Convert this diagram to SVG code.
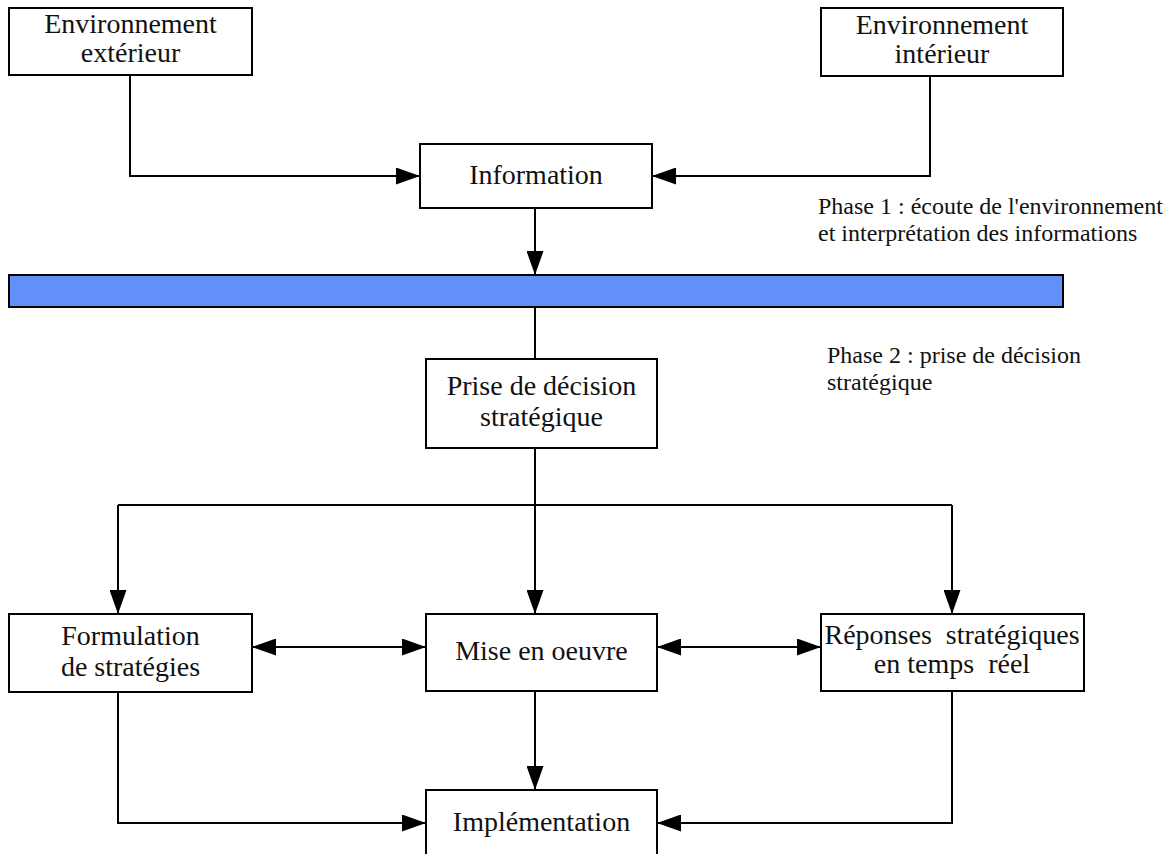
<svg xmlns="http://www.w3.org/2000/svg" width="1174" height="854" viewBox="0 0 1174 854">
  <defs>
    <style>
      .box { fill: #ffffff; stroke: #000000; stroke-width: 2; }
      .bar { fill: #6090f8; stroke: #000000; stroke-width: 2; }
      .lbl { font-family: "Liberation Serif", "Times New Roman", serif; font-size: 28px; fill: #111111; text-anchor: middle; white-space: pre; }
      .note { font-family: "Liberation Serif", "Times New Roman", serif; font-size: 24px; fill: #111111; }
      .wire { fill: none; stroke: #000000; stroke-width: 2; }
      .arrow { marker-end: url(#head); }
      .both { marker-start: url(#head); marker-end: url(#head); }
    </style>
    <marker id="head" markerUnits="userSpaceOnUse" markerWidth="24" markerHeight="17" refX="24" refY="8.5" orient="auto-start-reverse" viewBox="0 0 24 17">
      <path d="M0,0 L24,8.5 L0,17 Z" fill="#000000"/>
    </marker>
  </defs>

  <rect id="background" x="0" y="0" width="1174" height="854" fill="#ffffff"/>

  <!-- connectors -->
  <g id="connectors">
    <path class="wire arrow" d="M130,75 V176 H420"/>
    <path class="wire arrow" d="M930,76 V176 H652"/>
    <path class="wire arrow" d="M535,208 V275"/>
    <path class="wire" d="M535,307 V359"/>
    <path class="wire" d="M535,448 V505"/>
    <path class="wire" d="M118,505 H952"/>
    <path class="wire arrow" d="M118,505 V614"/>
    <path class="wire arrow" d="M535,505 V614"/>
    <path class="wire arrow" d="M952,505 V614"/>
    <path class="wire both" d="M252,647 H426"/>
    <path class="wire both" d="M657,647 H821"/>
    <path class="wire arrow" d="M535,691 V790"/>
    <path class="wire arrow" d="M118,692 V823 H426"/>
    <path class="wire arrow" d="M952,691 V823 H657"/>
  </g>

  <g id="env-exterieur">
    <rect class="box" x="9" y="8" width="243" height="67"/>
    <text class="lbl" x="130.5" y="33">Environnement</text>
    <text class="lbl" x="130.5" y="62">extérieur</text>
  </g>

  <g id="env-interieur">
    <rect class="box" x="821" y="8" width="242" height="68"/>
    <text class="lbl" x="942" y="34">Environnement</text>
    <text class="lbl" x="942" y="63">intérieur</text>
  </g>

  <g id="information">
    <rect class="box" x="420" y="144" width="232" height="64"/>
    <text class="lbl" x="536" y="184">Information</text>
  </g>

  <g id="phase1">
    <text class="note" x="818" y="214">Phase 1 : écoute de l'environnement</text>
    <text class="note" x="818" y="241">et interprétation des informations</text>
  </g>

  <g id="separator">
    <rect class="bar" x="9" y="275" width="1054" height="32"/>
  </g>

  <g id="phase2">
    <text class="note" x="827" y="363">Phase 2 : prise de décision</text>
    <text class="note" x="827" y="390">stratégique</text>
  </g>

  <g id="decision">
    <rect class="box" x="426" y="359" width="231" height="89"/>
    <text class="lbl" x="541.5" y="395">Prise de décision</text>
    <text class="lbl" x="541.5" y="426">stratégique</text>
  </g>

  <g id="formulation">
    <rect class="box" x="9" y="614" width="243" height="78"/>
    <text class="lbl" x="130.5" y="645">Formulation</text>
    <text class="lbl" x="130.5" y="676">de stratégies</text>
  </g>

  <g id="mise-en-oeuvre">
    <rect class="box" x="426" y="614" width="231" height="77"/>
    <text class="lbl" x="541.5" y="660">Mise en oeuvre</text>
  </g>

  <g id="reponses">
    <rect class="box" x="821" y="614" width="263" height="77"/>
    <text class="lbl" x="952" y="644">Réponses  stratégiques</text>
    <text class="lbl" x="952" y="673">en temps  réel</text>
  </g>

  <g id="implementation">
    <rect class="box" x="426" y="790" width="231" height="80"/>
    <text class="lbl" x="541.5" y="831">Implémentation</text>
  </g>
</svg>
